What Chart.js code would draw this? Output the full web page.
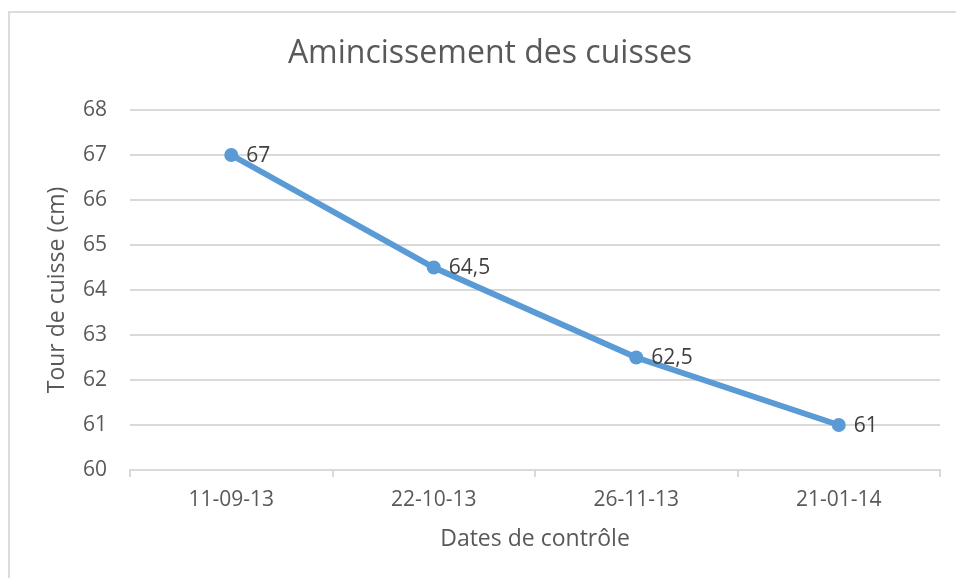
<!DOCTYPE html>
<html>
<head>
<meta charset="utf-8">
<script src="https://cdn.jsdelivr.net/npm/chart.js@4"></script>
<style>
  html, body { margin: 0; padding: 0; background: #fff; }
  body { width: 956px; height: 578px; overflow: hidden; position: relative; }
  .frame {
    position: absolute; left: 8px; top: 11px; width: 960px; height: 580px;
    border-left: 2px solid #dcdcdc; border-top: 2px solid #dcdcdc;
  }
  #chart { position: absolute; left: 0; top: 0; }
</style>
</head>
<body>
<div class="frame"></div>
<canvas id="chart" width="956" height="578"></canvas>
<script>
// Data
const dates = ['11-09-13', '22-10-13', '26-11-13', '21-01-14'];
const thighCm = [67, 64.5, 62.5, 61];
const yMin = 60;
const yMax = 68;

const textColor = '#595959';
const gridColor = '#d9d9d9';
const lineColor = '#5b9bd5';
const fontFamily = "'Open Sans', 'Noto Sans', sans-serif";

// Value labels to the right of each point (comma decimal, like the original)
const pointLabels = {
    id: 'pointLabels',
    afterDatasetsDraw(chart) {
        const ctx = chart.ctx;
        const meta = chart.getDatasetMeta(0);
        ctx.save();
        ctx.font = '21px ' + fontFamily;
        ctx.fillStyle = '#404040';
        ctx.textAlign = 'left';
        ctx.textBaseline = 'middle';
        meta.data.forEach((pt, i) => {
            const txt = String(thighCm[i]).replace('.', ',');
            ctx.fillText(txt, pt.x + 15, pt.y + 1);
        });
        ctx.restore();
    }
};

const chart = new Chart(document.getElementById('chart'), {
    type: 'line',
    data: {
        labels: dates,
        datasets: [{
            data: thighCm,
            borderColor: lineColor,
            backgroundColor: lineColor,
            borderWidth: 6,
            pointRadius: 7,
            pointHoverRadius: 7,
            pointBorderWidth: 0,
            tension: 0
        }]
    },
    options: {
        responsive: false,
        animation: false,
        // left padding keeps the title centred like the original
        layout: { padding: { left: 40, right: 16, top: 0, bottom: 0 } },
        plugins: {
            legend: { display: false },
            tooltip: { enabled: false },
            title: {
                display: true,
                text: 'Amincissement des cuisses',
                color: textColor,
                font: { family: fontFamily, size: 32, weight: 'normal' },
                padding: { top: 35, bottom: 36.6 }
            }
        },
        scales: {
            x: {
                offset: true,
                afterFit(scale) { scale.height = 108; },
                grid: {
                    offset: true,
                    drawOnChartArea: false,
                    drawTicks: true,
                    tickLength: 7,
                    color: gridColor,
                    lineWidth: 2
                },
                border: { display: true, color: gridColor, width: 2 },
                ticks: {
                    color: textColor,
                    font: { family: fontFamily, size: 21 },
                    padding: 10
                },
                title: {
                    display: true,
                    text: 'Dates de contrôle',
                    color: textColor,
                    font: { family: fontFamily, size: 23 },
                    padding: { top: 0, bottom: 25 }
                }
            },
            y: {
                min: yMin,
                max: yMax,
                afterFit(scale) { scale.width = 90; },
                ticks: {
                    stepSize: 1,
                    color: textColor,
                    font: { family: fontFamily, size: 21 },
                    padding: 23
                },
                grid: {
                    color: gridColor,
                    lineWidth: 2,
                    drawTicks: false
                },
                border: { display: false },
                title: {
                    display: true,
                    text: 'Tour de cuisse (cm)',
                    color: textColor,
                    font: { family: fontFamily, size: 23 },
                    padding: { top: 4, bottom: 0 }
                }
            }
        }
    },
    plugins: [pointLabels]
});
</script>
</body>
</html>
